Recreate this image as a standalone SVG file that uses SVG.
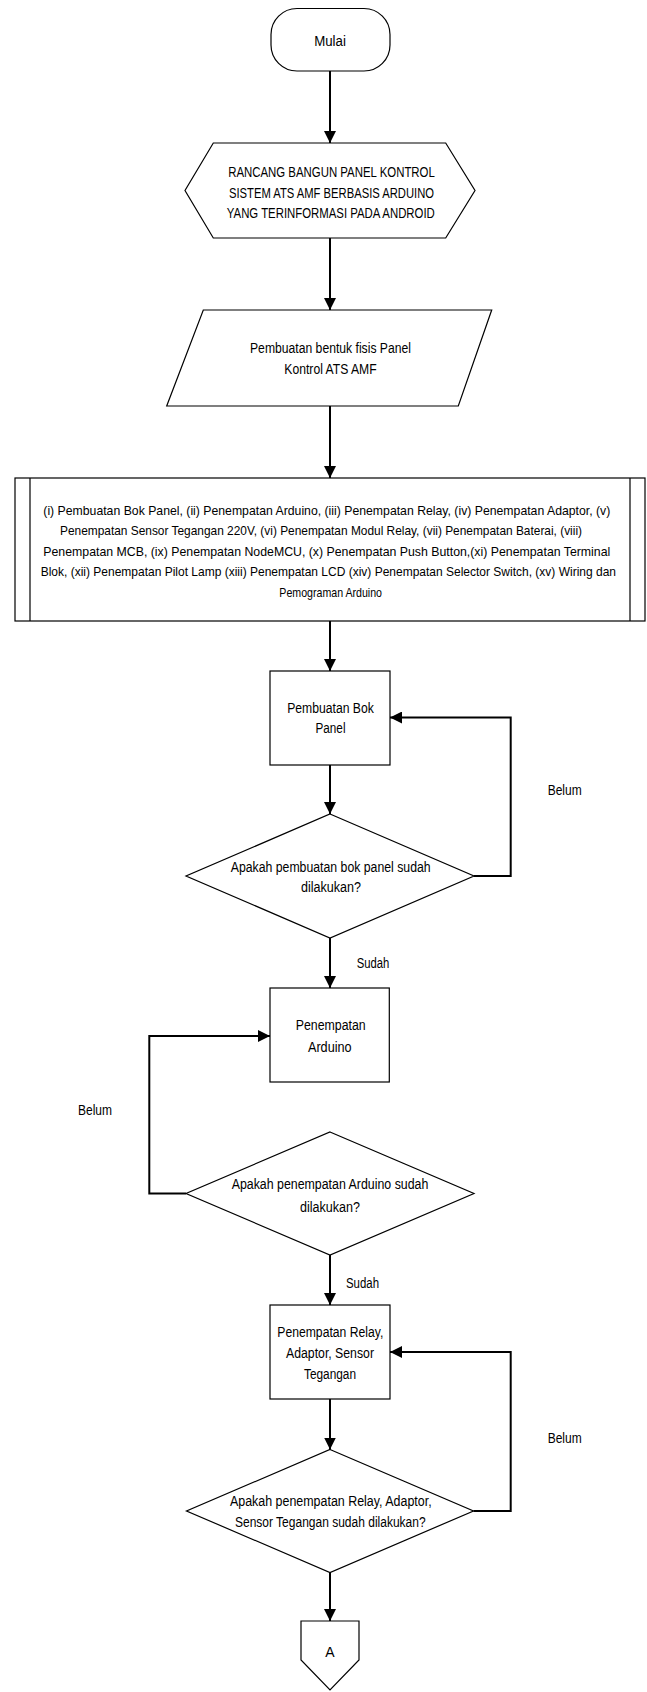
<svg xmlns="http://www.w3.org/2000/svg" width="647" height="1692" viewBox="0 0 647 1692">
<style>
.s{fill:#fff;stroke:#000;stroke-width:1.2}
.c{fill:none;stroke:#000;stroke-width:2}
text{font-family:"Liberation Sans",Arial,sans-serif;font-size:14px;fill:#000;dominant-baseline:central}
.m{text-anchor:middle}
.b{font-size:13px}
.n{font-size:12.4px}
</style>
<defs>
<marker id="ar" markerUnits="userSpaceOnUse" markerWidth="12" markerHeight="12" viewBox="0 0 12 12" refX="12" refY="6" orient="auto">
<path d="M0,0 L12,6 L0,12 z" fill="#000"/>
</marker>
</defs>
<rect width="647" height="1692" fill="#fff"/>
<g id="connectors">
<path class="c" d="M330,71 V143" marker-end="url(#ar)"/>
<path class="c" d="M330,238 V310" marker-end="url(#ar)"/>
<path class="c" d="M330,406 V478" marker-end="url(#ar)"/>
<path class="c" d="M330,621 V671" marker-end="url(#ar)"/>
<path class="c" d="M330,765 V814" marker-end="url(#ar)"/>
<path class="c" d="M474,876 H510.7 V717.5 H390" marker-end="url(#ar)"/>
<path class="c" d="M330,938 V988" marker-end="url(#ar)"/>
<path class="c" d="M186,1193.5 H149.3 V1036 H270" marker-end="url(#ar)"/>
<path class="c" d="M330,1255 V1305" marker-end="url(#ar)"/>
<path class="c" d="M330,1399 V1449.5" marker-end="url(#ar)"/>
<path class="c" d="M473.5,1511 H510.7 V1352 H390" marker-end="url(#ar)"/>
<path class="c" d="M330,1572.5 V1621" marker-end="url(#ar)"/>
<text x="547.7" y="790" textLength="34" lengthAdjust="spacingAndGlyphs">Belum</text>
<text x="356.7" y="963" textLength="32.6" lengthAdjust="spacingAndGlyphs">Sudah</text>
<text x="78" y="1110" textLength="34" lengthAdjust="spacingAndGlyphs">Belum</text>
<text x="346" y="1283" textLength="33" lengthAdjust="spacingAndGlyphs">Sudah</text>
<text x="547.7" y="1437.7" textLength="34" lengthAdjust="spacingAndGlyphs">Belum</text>
</g>
<g id="mulai">
<rect class="s" x="271" y="8.5" width="119" height="62.5" rx="26" ry="26"/>
<text class="m" x="330" y="40.5" textLength="31.7" lengthAdjust="spacingAndGlyphs">Mulai</text>
</g>
<g id="judul">
<polygon class="s" points="213.3,143 445.7,143 475,190.5 445.7,238 213.3,238 185,190.5"/>
<text class="m" x="331.5" y="172.3" textLength="206.7" lengthAdjust="spacingAndGlyphs">RANCANG BANGUN PANEL KONTROL</text>
<text class="m" x="331.5" y="193" textLength="205" lengthAdjust="spacingAndGlyphs">SISTEM ATS AMF BERBASIS ARDUINO</text>
<text class="m" x="330.8" y="213.3" textLength="208" lengthAdjust="spacingAndGlyphs">YANG TERINFORMASI PADA ANDROID</text>
</g>
<g id="fisis">
<polygon class="s" points="203.3,310 491.7,310 458.3,406 166.7,406"/>
<text class="m" x="330.5" y="348" textLength="161" lengthAdjust="spacingAndGlyphs">Pembuatan bentuk fisis Panel</text>
<text class="m" x="330.5" y="369" textLength="92.3" lengthAdjust="spacingAndGlyphs">Kontrol ATS AMF</text>
</g>
<g id="daftar">
<rect class="s" x="15" y="478" width="630" height="143"/>
<path class="s" d="M30,478 V621 M630,478 V621"/>
<text class="b" x="43.3" y="510" textLength="567" lengthAdjust="spacingAndGlyphs">(i) Pembuatan Bok Panel, (ii) Penempatan Arduino, (iii) Penempatan Relay, (iv) Penempatan Adaptor, (v)</text>
<text class="b" x="60" y="530.5" textLength="522" lengthAdjust="spacingAndGlyphs">Penempatan Sensor Tegangan 220V, (vi) Penempatan Modul Relay, (vii) Penempatan Baterai, (viii)</text>
<text class="b" x="43.3" y="551" textLength="567" lengthAdjust="spacingAndGlyphs">Penempatan MCB, (ix) Penempatan NodeMCU, (x) Penempatan Push Button,(xi) Penempatan Terminal</text>
<text class="n" x="40.7" y="571.5" textLength="575.3" lengthAdjust="spacingAndGlyphs">Blok, (xii) Penempatan Pilot Lamp (xiii) Penempatan LCD (xiv) Penempatan Selector Switch, (xv) Wiring dan</text>
<text class="b" x="279.3" y="592" textLength="102.7" lengthAdjust="spacingAndGlyphs">Pemograman Arduino</text>
</g>
<g id="bok">
<rect class="s" x="270" y="671" width="120" height="94"/>
<text class="m" x="330.5" y="708.3" textLength="86.7" lengthAdjust="spacingAndGlyphs">Pembuatan Bok</text>
<text class="m" x="330.5" y="728.3" textLength="30" lengthAdjust="spacingAndGlyphs">Panel</text>
</g>
<g id="cek-bok">
<polygon class="s" points="330,814 474,876 330,938 186,876"/>
<text class="m" x="330.7" y="866.7" textLength="200" lengthAdjust="spacingAndGlyphs">Apakah pembuatan bok panel sudah</text>
<text class="m" x="331" y="887.3" textLength="60" lengthAdjust="spacingAndGlyphs">dilakukan?</text>
</g>
<g id="arduino">
<rect class="s" x="270" y="988" width="119.3" height="94"/>
<text class="m" x="330.7" y="1025" textLength="70" lengthAdjust="spacingAndGlyphs">Penempatan</text>
<text class="m" x="329.8" y="1046.7" textLength="43.7" lengthAdjust="spacingAndGlyphs">Arduino</text>
</g>
<g id="cek-arduino">
<polygon class="s" points="330,1132 474,1193.5 330,1255 186,1193.5"/>
<text class="m" x="330" y="1184.3" textLength="196.7" lengthAdjust="spacingAndGlyphs">Apakah penempatan Arduino sudah</text>
<text class="m" x="330" y="1206.7" textLength="60" lengthAdjust="spacingAndGlyphs">dilakukan?</text>
</g>
<g id="relay">
<rect class="s" x="270" y="1305" width="120" height="94"/>
<text class="m" x="330.3" y="1331.7" textLength="106" lengthAdjust="spacingAndGlyphs">Penempatan Relay,</text>
<text class="m" x="330" y="1352.7" textLength="88" lengthAdjust="spacingAndGlyphs">Adaptor, Sensor</text>
<text class="m" x="330" y="1374" textLength="52" lengthAdjust="spacingAndGlyphs">Tegangan</text>
</g>
<g id="cek-relay">
<polygon class="s" points="330,1449.5 473.5,1511 330,1572.5 186.5,1511"/>
<text class="m" x="330.8" y="1500.7" textLength="201.7" lengthAdjust="spacingAndGlyphs">Apakah penempatan Relay, Adaptor,</text>
<text class="m" x="330.3" y="1521.7" textLength="190.7" lengthAdjust="spacingAndGlyphs">Sensor Tegangan sudah dilakukan?</text>
</g>
<g id="konektor-a">
<polygon class="s" points="301,1621 359,1621 359,1660 330,1690 301,1660"/>
<text class="m" x="330" y="1651.7">A</text>
</g>
</svg>
